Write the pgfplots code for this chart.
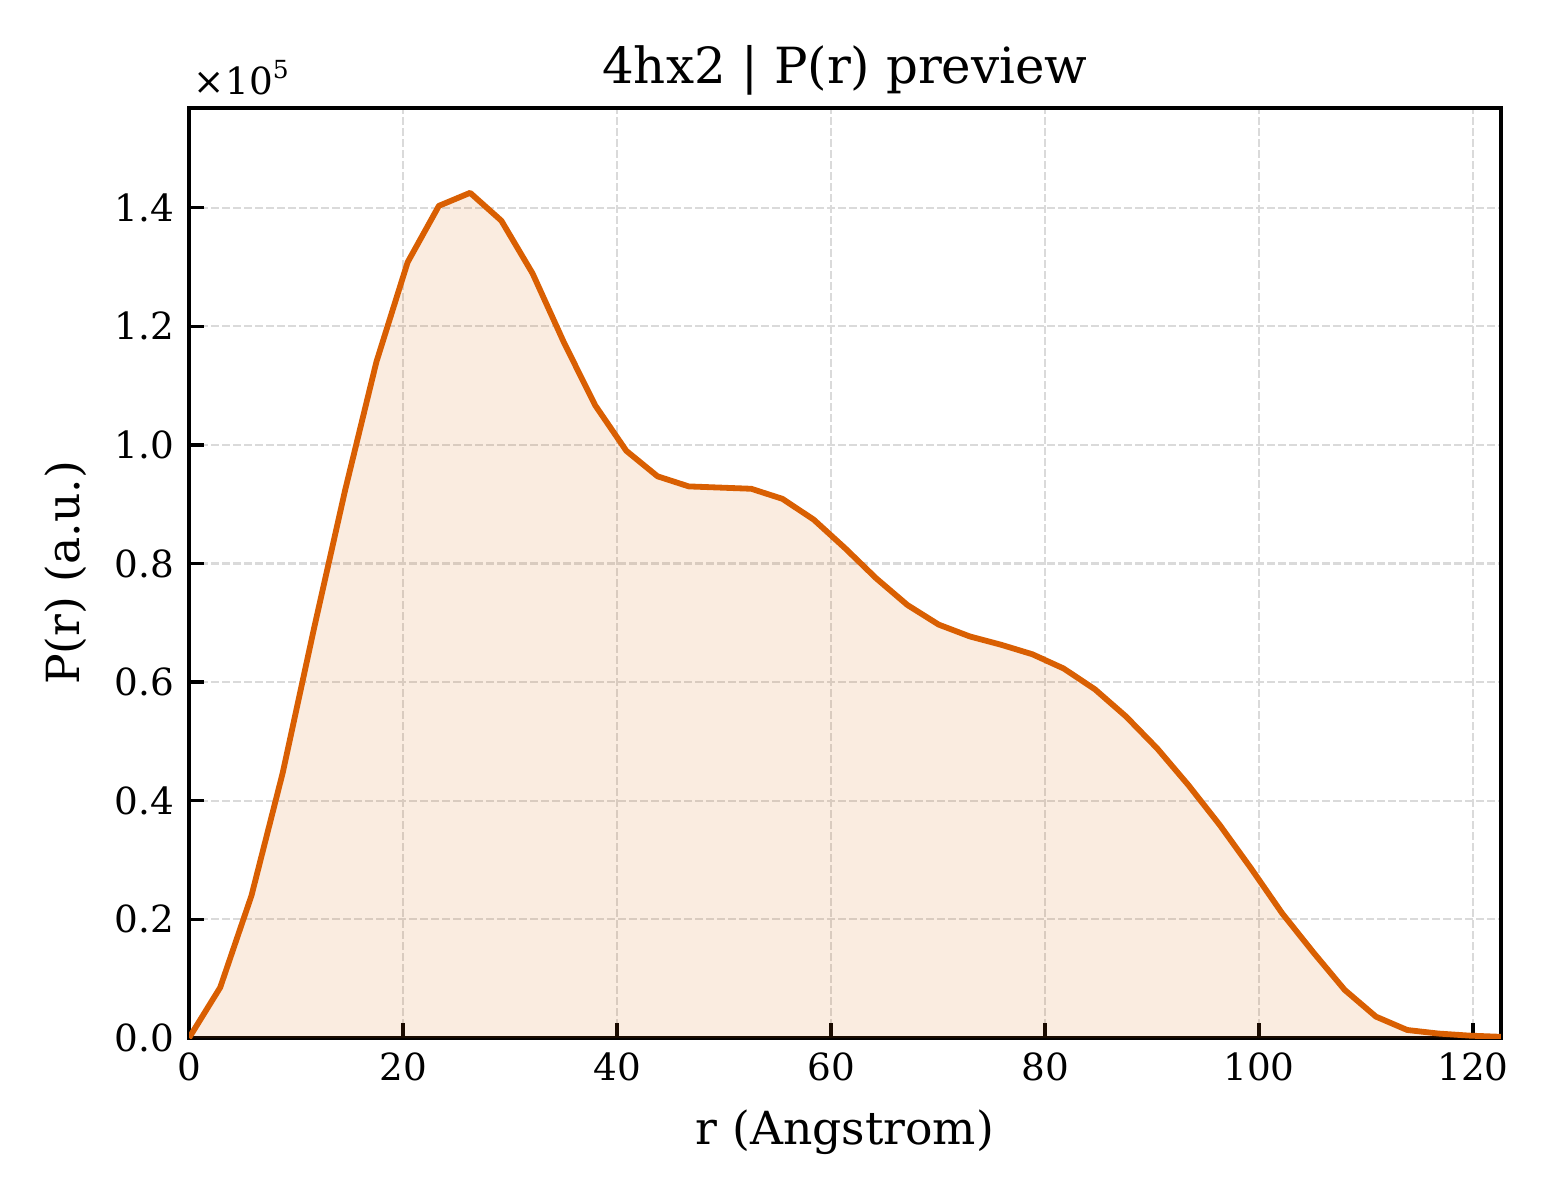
\documentclass[border=0pt]{standalone}
\usepackage{fontspec}
\setmainfont{DejaVu Serif}
\usepackage{pgfplots}
\pgfplotsset{compat=1.18}

\definecolor{prline}{HTML}{D95F02}
\definecolor{gridgray}{HTML}{DADADA}

\pgfplotstableread{
r        P
0        0
2.919    8530
5.838    24000
8.757    44700
11.676   69000
14.595   92400
17.514   114000
20.433   130800
23.352   140300
26.271   142500
29.190   137800
32.110   128900
35.029   117300
37.948   106700
40.867   99000
43.786   94700
46.705   93000
49.624   92800
52.543   92600
55.462   90900
58.381   87400
61.300   82600
64.219   77500
67.138   73000
70.057   69700
72.976   67700
75.895   66300
78.814   64700
81.733   62300
84.652   58800
87.571   54200
90.490   48800
93.410   42600
96.329   35900
99.248   28600
102.167  21000
105.086  14400
108.005  8100
110.924  3600
113.843  1350
116.762  750
119.681  400
122.600  200
}\prdata

\begin{document}
\begin{tikzpicture}
\useasboundingbox (-0.63in,-0.54in) rectangle (4.57in,3.46in);
\begin{axis}[
    scale only axis,
    width=4.373in, height=3.1in,
    xmin=0, xmax=122.6,
    ymin=0, ymax=156800,
    xtick={0,20,...,120},
    ytick={0,20000,40000,60000,80000,100000,120000,140000},
    scaled y ticks=base 10:-5,
    every y tick scale label/.style={at={(rel axis cs:0,1)}, anchor=base west, inner sep=0pt, xshift=1pt, yshift=3.2pt},
    ytick scale label code/.code={\fontsize{9}{11}\selectfont ×10\textsuperscript{5}},
    y tick label style={/pgf/number format/fixed, /pgf/number format/fixed zerofill, /pgf/number format/precision=1},
    /pgf/number format/assume math mode=true,
    tick label style={font=\fontsize{9}{11}\selectfont},
    label style={font=\fontsize{11}{13}\selectfont},
    every axis title shift=0pt,
    title style={font=\fontsize{12}{14}\selectfont, at={(rel axis cs:0.5,1)}, anchor=base, inner sep=0pt, yshift=6pt},
    title={4hx2 | P(r) preview},
    xlabel={r (Angstrom)},
    ylabel={P(r) (a.u.)},
    tick align=inside,
    xtick pos=bottom, ytick pos=left,
    major tick length=3.5pt,
    every tick/.style={black, line width=0.8pt},
    axis line style={line width=1pt},
    grid=major,
    major grid style={gridgray, dash pattern=on 1.85pt off 0.8pt, line width=0.5pt},
]
\addplot[draw=none, fill=prline, fill opacity=0.12] table[x=r, y=P] {\prdata} \closedcycle;
\addplot[prline, line width=1.4pt, line join=round] table[x=r, y=P] {\prdata};
\end{axis}
\end{tikzpicture}
\end{document}
